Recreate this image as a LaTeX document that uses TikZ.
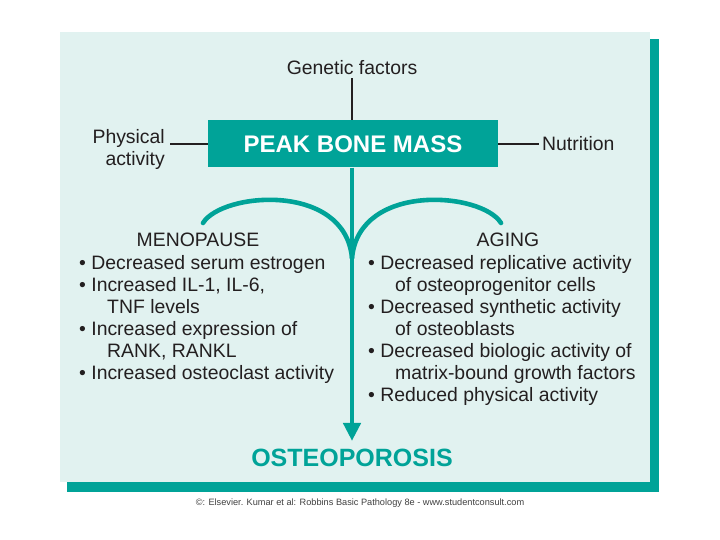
\documentclass[tikz,border=0pt]{standalone}
\usepackage{fontspec}
\setmainfont{Liberation Sans}
\usetikzlibrary{arrows.meta}
\definecolor{tealc}{RGB}{0,163,152}
\definecolor{panelc}{RGB}{225,242,240}
\definecolor{ink}{RGB}{35,31,32}
\begin{document}
\begin{tikzpicture}[x=1pt,y=-1pt,
  txt/.style={font=\fontsize{19.4}{22}\selectfont, text=ink, inner sep=0pt},
  lineL/.style={txt, anchor=base west},
  conn/.style={draw=ink, line width=2pt},
  boxst/.style={fill=tealc, text=white, font=\fontsize{24}{26}\selectfont\bfseries,
    minimum width=290pt, minimum height=47pt, inner sep=0pt},
  arcst/.style={draw=tealc, line width=4.6pt, line cap=round},
  stemst/.style={draw=tealc, line width=4.5pt, -{Triangle[width=17pt,length=18pt]}}]
\useasboundingbox (0,0) rectangle (720,540);
\fill[white] (0,0) rectangle (720,540);
% shadow and panel
\fill[tealc] (67,39) rectangle (659,492);
\fill[panelc] (60,32) rectangle (650,482);

% top part
\node[boxst] (peak) at (353,144) {PEAK BONE MASS};
\node[txt, inner sep=3pt] (gen) at (352,68) {Genetic factors};
\node[txt, align=right, anchor=east] (phys) at (165,149) {Physical\\activity};
\node[txt, anchor=west, inner sep=3pt] (nut) at (539,144) {Nutrition};
\draw[conn] (gen.south) -- (peak.north -| gen.south);
\draw[conn] ([xshift=5pt]phys.east |- peak.west) -- (peak.west);
\draw[conn] (peak.east) -- (nut.west);

% result
\node[font=\fontsize{25}{28}\selectfont\bfseries, text=tealc, inner sep=0pt] (osteo) at (352,458) {OSTEOPOROSIS};
\draw[stemst, shorten >=8pt] (peak.south -| osteo.north) -- (osteo.north);

% arcs
\draw[arcst] (203,223) .. controls (222,192) and (345,182) .. (352,258);
\draw[arcst] (501,223) .. controls (482,192) and (359,182) .. (352,258);

% left column
\node[txt] (meno) at (198,240) {MENOPAUSE};
\node[lineL] (l1) at (79,269) {• Decreased serum estrogen};
\node[lineL] (l2) at (79,291) {• Increased IL-1, IL-6,};
\node[lineL] (l3) at (107,313) {TNF levels};
\node[lineL] (l4) at (79,335) {• Increased expression of};
\node[lineL] (l5) at (107,357) {RANK, RANKL};
\node[lineL] (l6) at (79,379) {• Increased osteoclast activity};

% right column
\node[txt] (aging) at (508,240) {AGING};
\node[lineL] (r1) at (368,269) {• Decreased replicative activity};
\node[lineL] (r2) at (395,291) {of osteoprogenitor cells};
\node[lineL] (r3) at (368,313) {• Decreased synthetic activity};
\node[lineL] (r4) at (395,335) {of osteoblasts};
\node[lineL] (r5) at (368,357) {• Decreased biologic activity of};
\node[lineL] (r6) at (395,379) {matrix-bound growth factors};
\node[lineL] (r7) at (368,401) {• Reduced physical activity};

% credit
\node[font=\fontsize{9.2}{11}\selectfont, text=black!75, inner sep=0pt] (credit) at (360,503)
  {©: Elsevier. Kumar et al: Robbins Basic Pathology 8e - www.studentconsult.com};
\end{tikzpicture}
\end{document}
